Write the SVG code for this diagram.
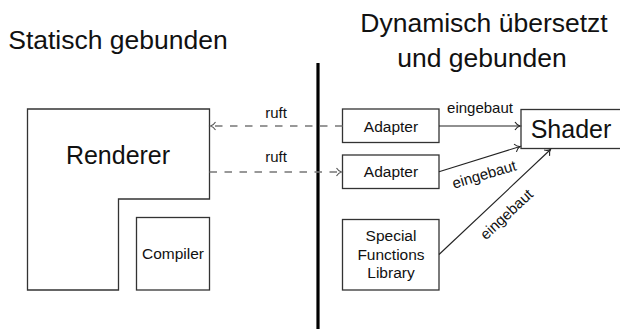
<svg xmlns="http://www.w3.org/2000/svg" width="620" height="334" viewBox="0 0 620 334">
  <style>
    text { font-family: "Liberation Sans", Arial, sans-serif; fill: #111; }
    .title { font-size: 26.5px; text-anchor: middle; }
    .big { font-size: 25px; text-anchor: middle; }
    .small { font-size: 15.5px; text-anchor: middle; }
    .lbl { font-size: 15px; text-anchor: middle; }
    .box { fill: #fff; stroke: #333; stroke-width: 1.3; }
    .solid { fill: none; stroke: #222; stroke-width: 1.1; }
    .dash { fill: none; stroke: #777; stroke-width: 1.3; stroke-dasharray: 7.5 7.5; }
  </style>
  <defs>
    <marker id="ah" markerUnits="userSpaceOnUse" markerWidth="12" markerHeight="12" refX="0" refY="0" viewBox="-7 -6 8 12" orient="auto" overflow="visible">
      <path d="M-5,-4 C-3.5,-1.6 -1.5,-0.4 0,0 C-1.5,0.4 -3.5,1.6 -5,4" fill="none" stroke="#222" stroke-width="1.1"/>
    </marker>
    <marker id="ahg" markerUnits="userSpaceOnUse" markerWidth="12" markerHeight="12" refX="0" refY="0" viewBox="-7 -6 8 12" orient="auto" overflow="visible">
      <path d="M-5,-4 C-3.5,-1.6 -1.5,-0.4 0,0 C-1.5,0.4 -3.5,1.6 -5,4" fill="none" stroke="#555" stroke-width="1.1"/>
    </marker>
  </defs>

  <g id="titles">
    <text class="title" x="118" y="49">Statisch gebunden</text>
    <text class="title" x="484" y="32">Dynamisch übersetzt</text>
    <text class="title" x="482" y="67">und gebunden</text>
  </g>

  <g id="divider">
    <line x1="318" y1="63" x2="318" y2="329" stroke="#000" stroke-width="3.2"/>
  </g>

  <g id="renderer">
    <path class="box" d="M27.5,109 H209.5 V199 H118.5 V290 H27.5 Z"/>
    <text class="big" x="118" y="164">Renderer</text>
  </g>

  <g id="compiler">
    <rect class="box" x="136.5" y="217.5" width="73" height="72.5"/>
    <text class="small" x="173" y="259">Compiler</text>
  </g>

  <g id="adapter1">
    <rect class="box" x="342.5" y="109" width="96.5" height="33.5"/>
    <text class="small" x="391" y="131.5">Adapter</text>
  </g>

  <g id="adapter2">
    <rect class="box" x="342.5" y="155" width="96.5" height="33.5"/>
    <text class="small" x="391" y="177">Adapter</text>
  </g>

  <g id="sfl">
    <rect class="box" x="342.5" y="219.5" width="96.5" height="70.5"/>
    <text class="small" x="391" y="241">Special</text>
    <text class="small" x="391" y="259.5">Functions</text>
    <text class="small" x="391" y="278">Library</text>
  </g>

  <g id="shader">
    <rect class="box" x="521" y="109.5" width="104" height="39"/>
    <text class="big" x="571" y="138">Shader</text>
  </g>

  <g id="connectors">
    <line class="dash" x1="342.5" y1="126" x2="210.5" y2="126" marker-end="url(#ahg)"/>
    <line class="dash" x1="209.5" y1="172" x2="341.5" y2="172" marker-end="url(#ahg)"/>
    <line class="solid" x1="439" y1="126" x2="520" y2="126" marker-end="url(#ah)"/>
    <line class="solid" x1="439" y1="171.7" x2="520" y2="146.5" marker-end="url(#ah)"/>
    <line class="solid" x1="439" y1="254.5" x2="550.5" y2="149.5" marker-end="url(#ah)"/>
    <text class="lbl" x="276" y="118">ruft</text>
    <text class="lbl" x="276" y="161.5">ruft</text>
    <text class="lbl" x="480" y="113">eingebaut</text>
    <text class="lbl" x="485.7" y="179.3" transform="rotate(-16.5 485.7 179.3)">eingebaut</text>
    <text class="lbl" x="510" y="218" transform="rotate(-43 510 218)">eingebaut</text>
  </g>
</svg>
